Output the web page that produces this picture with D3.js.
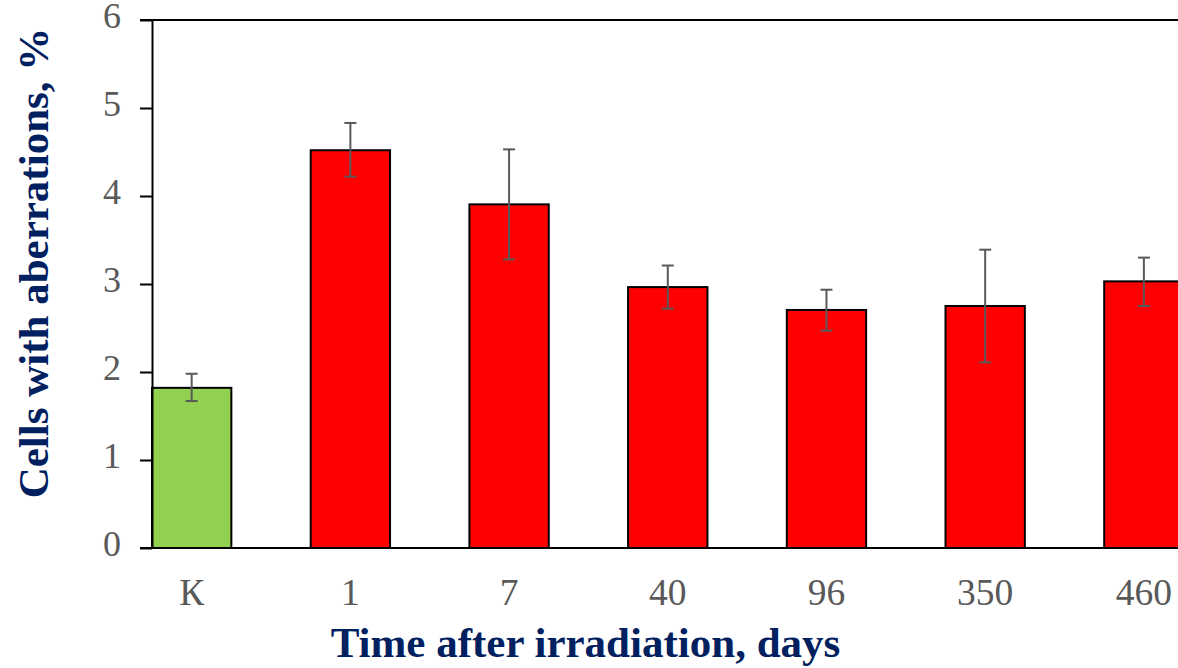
<!DOCTYPE html>
<html><head><meta charset="utf-8">
<script src="https://cdn.jsdelivr.net/npm/d3@7"></script>
<style>html,body{margin:0;padding:0;background:#fff;overflow:hidden}</style>
</head><body>
<svg id="c" width="1178" height="668"></svg>
<script>
const categories = ["К","1","7","40","96","350","460"];
const values = [1.82, 4.52, 3.905, 2.965, 2.705, 2.75, 3.03];
const errLow = [1.67, 4.22, 3.28, 2.72, 2.47, 2.11, 2.75];
const errHigh = [1.98, 4.83, 4.53, 3.21, 2.935, 3.39, 3.30];
const barColors = ["#92D050","#FF0000","#FF0000","#FF0000","#FF0000","#FF0000","#FF0000"];
const yTicks = [0,1,2,3,4,5,6];
const yTitle = "Cells with aberrations, %";
const xTitle = "Time after irradiation, days";

const svg = d3.select("#c");
const mLeft = 152, mTop = 20, mBottom = 548, step = 158.7;
const x = d3.scaleBand().domain(categories).range([mLeft, mLeft + step*6.5]).paddingInner(0.5).paddingOuter(0);
const y = d3.scaleLinear().domain([0,6]).range([mBottom, mTop]);
const font = "'Liberation Serif','Times New Roman',serif";

// bars
svg.selectAll("rect.bar").data(categories).enter().append("rect")
  .attr("x", d => x(d)).attr("width", x.bandwidth())
  .attr("y", (d,i) => y(values[i])).attr("height", (d,i) => y(0) - y(values[i]))
  .attr("fill", (d,i) => barColors[i]).attr("stroke", "#000").attr("stroke-width", 2);

// error bars
const eb = svg.append("g").attr("stroke", "#595959").attr("stroke-width", 2);
categories.forEach((c,i) => {
  const cx = x(c) + x.bandwidth()/2;
  eb.append("line").attr("x1", cx).attr("x2", cx).attr("y1", y(errLow[i])).attr("y2", y(errHigh[i]));
  eb.append("line").attr("x1", cx-6).attr("x2", cx+6).attr("y1", y(errLow[i])).attr("y2", y(errLow[i]));
  eb.append("line").attr("x1", cx-6).attr("x2", cx+6).attr("y1", y(errHigh[i])).attr("y2", y(errHigh[i]));
});

// y axis
const yAxis = svg.append("g").attr("transform", `translate(${mLeft},0)`)
  .call(d3.axisLeft(y).tickValues(yTicks).tickFormat(d3.format("d")).tickSize(12).tickSizeOuter(0).tickPadding(19));
yAxis.select(".domain").attr("stroke", "#000").attr("stroke-width", 2);
yAxis.selectAll(".tick line").attr("stroke", "#000").attr("stroke-width", 2);
yAxis.selectAll(".tick text").attr("fill", "#595959").attr("dy", "0.22em")
  .style("font-family", font).style("font-size", "36px");

// top border line
svg.append("line").attr("x1", mLeft-12).attr("x2", 1178).attr("y1", y(6)).attr("y2", y(6)).attr("stroke", "#000").attr("stroke-width", 2);

// x axis
const xAxis = svg.append("g").attr("transform", `translate(0,${mBottom})`)
  .call(d3.axisBottom(x).tickSize(0));
xAxis.select(".domain").remove();
xAxis.selectAll(".tick text").attr("fill", "#595959").attr("y", 57).attr("dy", 0)
  .style("font-family", font).style("font-size", "37.5px");
svg.append("line").attr("x1", mLeft-12).attr("x2", 1178).attr("y1", mBottom).attr("y2", mBottom).attr("stroke", "#000").attr("stroke-width", 2);

// titles
svg.append("text").attr("x", 585.5).attr("y", 657).attr("text-anchor", "middle")
  .attr("fill", "#002060").style("font-family", font).style("font-weight", "bold").style("font-size", "43px").text(xTitle);
svg.append("text").attr("transform", "translate(48,263) rotate(-90)").attr("text-anchor", "middle")
  .attr("fill", "#002060").style("font-family", font).style("font-weight", "bold").style("font-size", "43px").text(yTitle);
</script>
</body></html>
